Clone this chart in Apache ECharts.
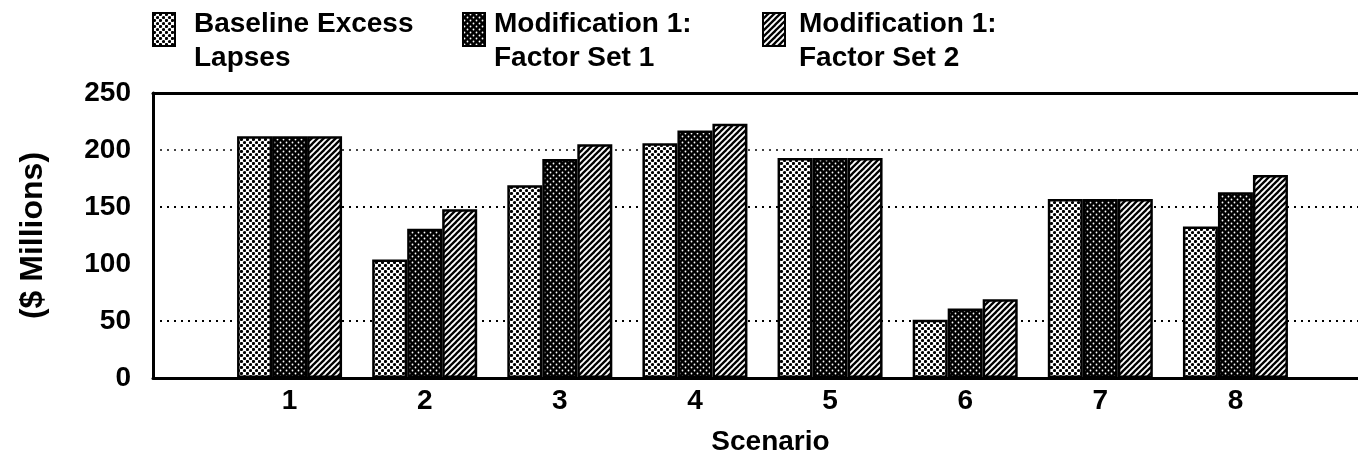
<!DOCTYPE html>
<html>
<head>
<meta charset="utf-8">
<style>
  html, body { margin: 0; padding: 0; background: #fff; }
  #chart { width: 1358px; height: 468px; }
</style>
<script src="https://cdn.jsdelivr.net/npm/echarts@6.0.0/dist/echarts.min.js"></script>
</head>
<body>
<div id="chart"></div>
<script>
// Scenario categories and values ($ Millions)
const scenarios = ['1', '2', '3', '4', '5', '6', '7', '8'];
const seriesNames = ['Baseline Excess\nLapses', 'Modification 1:\nFactor Set 1', 'Modification 1:\nFactor Set 2'];
const baselineExcessLapses = [212, 104, 169, 206, 193, 51, 157, 133];
const factorSet1 = [212, 131, 192, 217, 193, 61, 157, 163];
const factorSet2 = [212, 148, 205, 223, 193, 69, 157, 178];
const yMin = 0, yMax = 250, yStep = 50;

const FONT = '"Liberation Sans", Arial, Helvetica, sans-serif';

// Small repeating tiles used as monochrome fills
function tile(w, h, draw) {
  const c = document.createElement('canvas');
  c.width = w; c.height = h;
  draw(c.getContext('2d'), w, h);
  return { image: c, repeat: 'repeat' };
}
const lightDots = tile(6, 6, (g, w, h) => {
  g.fillStyle = '#fff'; g.fillRect(0, 0, w, h);
  g.fillStyle = '#000';
  [[1.5, 1.5], [4.5, 4.5]].forEach(([x, y]) => { g.beginPath(); g.arc(x, y, 1.6, 0, Math.PI * 2); g.fill(); });
});
const darkDots = tile(6, 6, (g, w, h) => {
  g.fillStyle = '#000'; g.fillRect(0, 0, w, h);
  g.fillStyle = '#fff';
  [[1.5, 1.5], [4.5, 4.5]].forEach(([x, y]) => { g.beginPath(); g.arc(x, y, 0.9, 0, Math.PI * 2); g.fill(); });
});
const hatch = tile(6, 6, (g, w, h) => {
  g.fillStyle = '#fff'; g.fillRect(0, 0, w, h);
  g.strokeStyle = '#000'; g.lineWidth = 2.3;
  [[-1, 7, 7, -1], [-4, 4, 4, -4], [2, 10, 10, 2]].forEach(([a, b, c, d]) => {
    g.beginPath(); g.moveTo(a, b); g.lineTo(c, d); g.stroke();
  });
});
const fills = [lightDots, darkDots, hatch];
const values = [baselineExcessLapses, factorSet1, factorSet2];

const labelFont = { fontFamily: FONT, fontWeight: 'bold', fontSize: 28, color: '#000' };
const frameLine = { show: true, onZero: false, lineStyle: { color: '#000', width: 3 } };

// Legend swatch: a box in the upper part of a tall item so it sits beside the first text line
const swatchIcon = 'path://M0,0M0,68M0,6H22V39H0Z';

const chart = echarts.init(document.getElementById('chart'), null, { renderer: 'canvas' });
chart.setOption({
  animation: false,
  backgroundColor: '#fff',
  legend: seriesNames.map((name, i) => ({
    data: [name],
    left: [152, 462, 762][i],
    top: 6,
    padding: 0,
    icon: swatchIcon,
    itemWidth: 22,
    itemHeight: 68,
    selectedMode: false,
    itemStyle: { borderColor: '#000', borderWidth: 2 },
    textStyle: Object.assign({}, labelFont, { lineHeight: 34, padding: [0, 0, 0, [14, 4, 9][i]] })
  })),
  grid: [
    { left: 153, right: 0, top: 93, bottom: 90 },
    { left: 222, right: 55, top: 93, bottom: 90 }
  ],
  xAxis: [
    { gridIndex: 0, type: 'value', min: 0, max: 1, position: 'bottom',
      axisLine: frameLine, axisTick: { show: false }, axisLabel: { show: false }, splitLine: { show: false } },
    { gridIndex: 0, type: 'value', min: 0, max: 1, position: 'top',
      axisLine: frameLine, axisTick: { show: false }, axisLabel: { show: false }, splitLine: { show: false } },
    { gridIndex: 1, type: 'category', data: scenarios, boundaryGap: true,
      axisLine: { show: false }, axisTick: { show: false },
      axisLabel: Object.assign({ margin: 9 }, labelFont),
      name: 'Scenario', nameLocation: 'middle', nameGap: 50,
      nameTextStyle: Object.assign({ padding: [0, 0, 0, 16] }, labelFont) }
  ],
  yAxis: [
    { gridIndex: 0, type: 'value', min: yMin, max: yMax, interval: yStep,
      axisLine: frameLine, axisTick: { show: false },
      axisLabel: Object.assign({ margin: 22 }, labelFont),
      splitLine: { show: true, lineStyle: { color: ['#000', '#000', 'rgba(0,0,0,0)', '#000', '#444', '#000'], type: [2, 5], width: 2 } },
      name: '($ Millions)', nameLocation: 'middle', nameRotate: 90, nameGap: 104,
      nameTextStyle: Object.assign({}, labelFont, { fontSize: 32 }) },
    { gridIndex: 1, type: 'value', min: yMin, max: yMax, interval: yStep, show: false }
  ],
  series: seriesNames.map((name, i) => ({
    type: 'bar',
    name: name,
    data: values[i],
    xAxisIndex: 2,
    yAxisIndex: 1,
    barWidth: 35,
    barGap: '0%',
    itemStyle: { color: fills[i], borderColor: '#000', borderWidth: 2.5 },
    emphasis: { disabled: true }
  }))
});
</script>
</body>
</html>
